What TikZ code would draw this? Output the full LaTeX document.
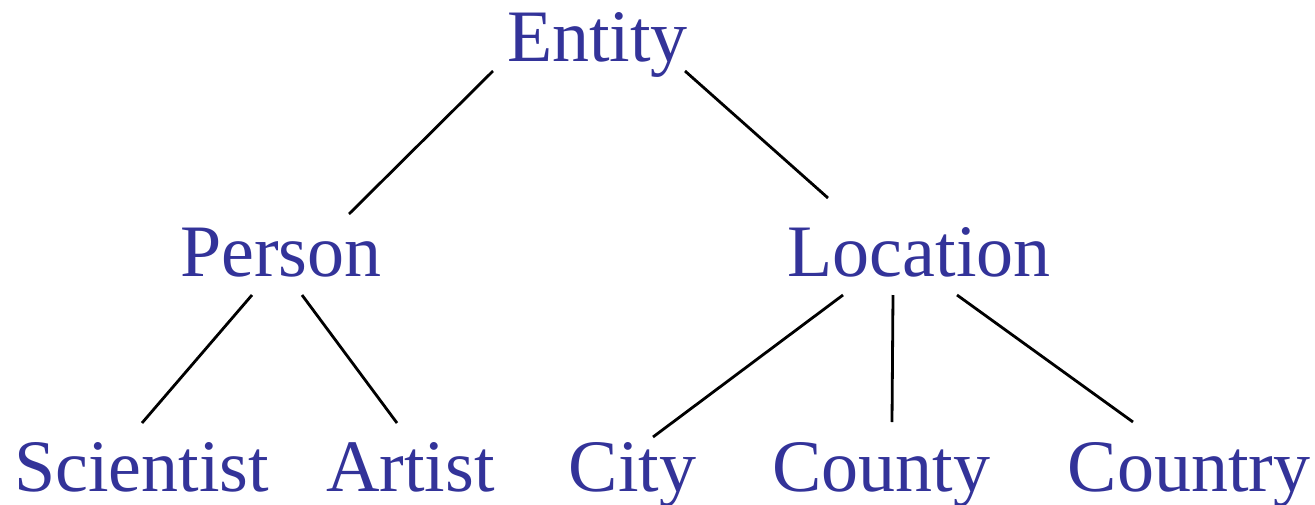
\documentclass[tikz,border=0pt]{standalone}
\usepackage{fontspec}
\setmainfont{Liberation Serif}
\definecolor{termblue}{RGB}{51,51,153}
\begin{document}
\begin{tikzpicture}[x=1pt,y=1pt,
  term/.style={anchor=base,inner sep=0pt,text=termblue,font=\fontsize{74}{80}\selectfont},
  link/.style={line width=2.8pt,black}]
\useasboundingbox (0,-504) rectangle (1315,0);
\node[term] (Entity) at (597.5,-61) {Entity};
\node[term] (Person) at (281,-276) {Person};
\node[term] (Location) at (919,-276) {Location};
\node[term] (Scientist) at (141.5,-491) {Scientist};
\node[term] (Artist) at (410.5,-491) {Artist};
\node[term] (City) at (632.5,-491) {City};
\node[term] (County) at (881.5,-491) {County};
\node[term] (Country) at (1189,-491) {Country};
\draw[link] ([shift={(-104.5,-10)}]Entity.base) -- ([shift={(68,62)}]Person.base);
\draw[link] ([shift={(87.5,-10)}]Entity.base) -- ([shift={(-91,78)}]Location.base);
\draw[link] ([shift={(-29,-19)}]Person.base) -- ([shift={(0.5,68)}]Scientist.base);
\draw[link] ([shift={(21,-19)}]Person.base) -- ([shift={(-13.5,68)}]Artist.base);
\draw[link] ([shift={(-76,-19)}]Location.base) -- ([shift={(20.5,54)}]City.base);
\draw[link] ([shift={(-26,-19)}]Location.base) -- ([shift={(10.5,69)}]County.base);
\draw[link] ([shift={(38,-19)}]Location.base) -- ([shift={(-56,69)}]Country.base);
\end{tikzpicture}
\end{document}
